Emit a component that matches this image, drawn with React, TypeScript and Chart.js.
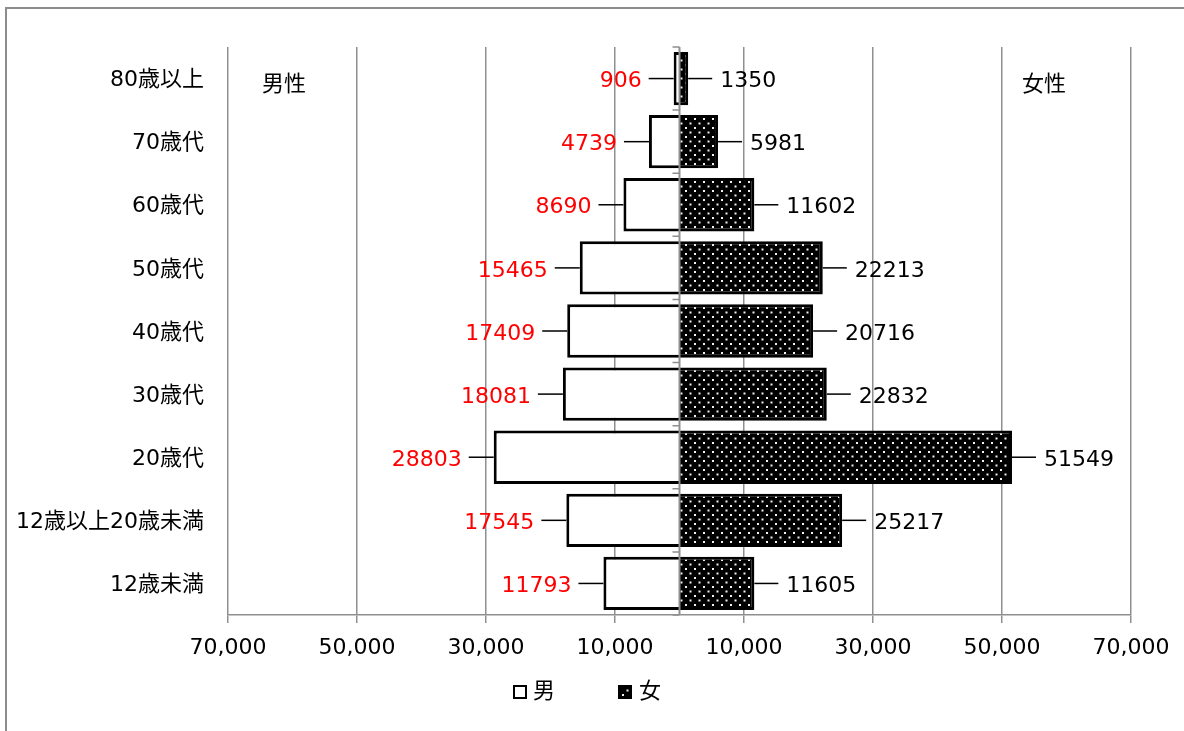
import React, { useEffect, useRef } from "react";
import { Chart, registerables } from "chart.js";

Chart.register(...registerables);

const categories = ["80歳以上", "70歳代", "60歳代", "50歳代", "40歳代", "30歳代", "20歳代", "12歳以上20歳未満", "12歳未満"];
const maleValues = [906, 4739, 8690, 15465, 17409, 18081, 28803, 17545, 11793];
const femaleValues = [1350, 5981, 11602, 22213, 20716, 22832, 51549, 25217, 11605];
const seriesNames = ["男", "女"];
const sideLabels = ["男性", "女性"];
const axisMin = -70000;
const axisMax = 70000;
const axisStep = 20000;

const FONT = '"DejaVu Sans", "Noto Sans CJK JP", sans-serif';
const GRID = "#8f8f8f";

function makeDots(): CanvasPattern | string {
  const c = document.createElement("canvas");
  c.width = 9;
  c.height = 9;
  const g = c.getContext("2d");
  if (!g) return "#000";
  g.fillStyle = "#000";
  g.fillRect(0, 0, 9, 9);
  g.fillStyle = "#f2f2f2";
  g.fillRect(1, 1, 2, 2);
  g.fillRect(5.5, 5.5, 2, 2);
  const p = g.createPattern(c, "repeat");
  return p || "#000";
}

export default function App() {
  const ref = useRef<HTMLCanvasElement | null>(null);

  useEffect(() => {
    const canvas = ref.current;
    if (!canvas) return;
    const dots = makeDots();

    const plugin = {
      id: "pyramidExtras",
      afterDatasetsDraw(chart: any) {
        const { ctx, chartArea, scales } = chart;
        const x0 = scales.x.getPixelForValue(0);
        ctx.save();
        // category axis line at zero with boundary ticks
        ctx.strokeStyle = GRID;
        ctx.lineWidth = 2;
        ctx.beginPath();
        ctx.moveTo(x0, chartArea.top);
        ctx.lineTo(x0, chartArea.bottom);
        ctx.stroke();
        ctx.lineWidth = 1.5;
        ctx.beginPath();
        for (let i = 0; i <= categories.length; i++) {
          const y = scales.y.getPixelForValue(i - 0.5);
          ctx.moveTo(x0 - 7, y);
          ctx.lineTo(x0, y);
        }
        ctx.stroke();

        ctx.font = `22px ${FONT}`;
        ctx.textBaseline = "middle";
        const mMeta = chart.getDatasetMeta(0);
        const fMeta = chart.getDatasetMeta(1);
        mMeta.data.forEach((bar: any, i: number) => {
          const xe = bar.x;
          const y = bar.y;
          ctx.strokeStyle = "#000";
          ctx.lineWidth = 1.5;
          ctx.beginPath();
          ctx.moveTo(xe - 25, y);
          ctx.lineTo(xe, y);
          ctx.stroke();
          ctx.fillStyle = "#ff0000";
          ctx.textAlign = "right";
          ctx.fillText(String(maleValues[i]), xe - 32, y + 3);
        });
        fMeta.data.forEach((bar: any, i: number) => {
          const xe = bar.x;
          const y = bar.y;
          ctx.strokeStyle = "#000";
          ctx.lineWidth = 1.5;
          ctx.beginPath();
          ctx.moveTo(xe, y);
          ctx.lineTo(xe + 24, y);
          ctx.stroke();
          ctx.fillStyle = "#000";
          ctx.textAlign = "left";
          ctx.fillText(String(femaleValues[i]), xe + 32, y + 3);
        });
        ctx.restore();
      },
      afterDraw(chart: any) {
        const { ctx, chartArea } = chart;
        ctx.save();
        ctx.font = `22px ${FONT}`;
        ctx.fillStyle = "#000";
        ctx.textBaseline = "middle";
        ctx.textAlign = "left";
        ctx.fillText(sideLabels[0], chartArea.left + 34, chartArea.top + 38);
        ctx.fillText(sideLabels[1], chartArea.right - 109, chartArea.top + 38);

        // legend
        const ly = 692;
        const box = 14;
        const w0 = ctx.measureText(seriesNames[0]).width;
        const w1 = ctx.measureText(seriesNames[1]).width;
        const total = box + 6 + w0 + 63 + box + 7 + w1;
        let x = Math.round(chart.width / 2 - 5 - total / 2);
        ctx.fillStyle = "#fff";
        ctx.fillRect(x, ly - box / 2, box, box);
        ctx.strokeStyle = "#000";
        ctx.lineWidth = 2;
        ctx.strokeRect(x + 1, ly - box / 2 + 1, box - 2, box - 2);
        x += box + 6;
        ctx.fillStyle = "#000";
        ctx.fillText(seriesNames[0], x, ly);
        x += w0 + 63;
        ctx.fillStyle = dots as any;
        ctx.fillRect(x, ly - box / 2, box, box);
        ctx.strokeRect(x + 1, ly - box / 2 + 1, box - 2, box - 2);
        x += box + 7;
        ctx.fillStyle = "#000";
        ctx.fillText(seriesNames[1], x, ly);
        ctx.restore();
      },
    };

    const chart = new Chart(canvas, {
      type: "bar",
      data: {
        labels: categories,
        datasets: [
          {
            label: seriesNames[0],
            data: maleValues.map((v) => -v),
            backgroundColor: "#ffffff",
            borderColor: "#000000",
            borderWidth: 3,
            borderSkipped: "start",
            barPercentage: 0.845,
            categoryPercentage: 1,
          },
          {
            label: seriesNames[1],
            data: femaleValues,
            backgroundColor: dots as any,
            borderColor: "#000000",
            borderWidth: 3,
            borderSkipped: "start",
            barPercentage: 0.845,
            categoryPercentage: 1,
          },
        ],
      },
      options: {
        indexAxis: "y",
        responsive: false,
        animation: false,
        devicePixelRatio: 1,
        layout: { padding: { top: 47, right: 53, bottom: 56, left: 0 } },
        plugins: {
          legend: { display: false },
          tooltip: { enabled: false },
        },
        scales: {
          x: {
            stacked: true,
            min: axisMin,
            max: axisMax,
            ticks: {
              stepSize: axisStep,
              color: "#000",
              font: { family: FONT, size: 22 },
              padding: 12,
              maxRotation: 0,
              callback: (v: any) => Math.abs(Number(v)).toLocaleString("en-US"),
            },
            grid: { color: GRID, lineWidth: 1.5, tickLength: 8, drawTicks: true },
            border: { display: true, color: GRID, width: 1.5 },
            afterFit: (s: any) => {
              s.height = 60;
            },
          },
          y: {
            stacked: true,
            offset: true,
            ticks: {
              color: "#000",
              font: { family: FONT, size: 22 },
              padding: 24,
              labelOffset: 2,
            },
            grid: { display: false, drawTicks: false },
            border: { display: false },
            afterFit: (s: any) => {
              s.width = 228;
            },
          },
        },
      },
      plugins: [plugin],
    });

    return () => chart.destroy();
  }, []);

  return (
    <div style={{ position: "fixed", left: 0, top: 0, width: 1184, height: 731, overflow: "hidden", background: "#fff" }}>
      <div
        style={{
          position: "absolute",
          left: 5,
          top: 7,
          width: 1300,
          height: 900,
          border: "2px solid #8c8c8c",
          boxSizing: "border-box",
        }}
      />
      <canvas ref={ref} width={1184} height={731} style={{ position: "absolute", left: 0, top: 0 }} />
    </div>
  );
}
